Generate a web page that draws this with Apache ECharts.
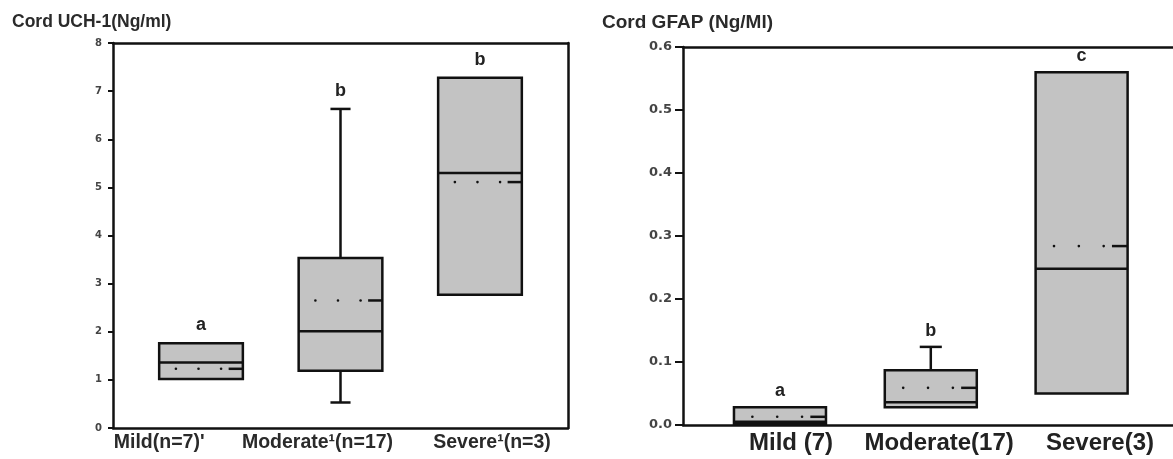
<!DOCTYPE html>
<html>
<head>
<meta charset="utf-8">
<script src="https://cdn.jsdelivr.net/npm/echarts@6/dist/echarts.min.js"></script>
<style>
html, body { margin: 0; padding: 0; background: #fff; }
#main { width: 1173px; height: 459px; }
</style>
</head>
<body>
<div id="main"></div>
<script>
// left panel: cord UCH-1 (Ng/ml)
const uchLabels = ["Mild(n=7)'", 'Moderate\u00b9(n=17)', 'Severe\u00b9(n=3)'];
const uchLow = [1.02, 0.53, 2.77];
const uchQ1 = [1.02, 1.19, 2.77];
const uchMedian = [1.36, 2.01, 5.30];
const uchQ3 = [1.76, 3.53, 7.28];
const uchHigh = [1.76, 6.63, 7.28];
const uchMean = [1.23, 2.65, 5.11];
const uchLetters = ['a', 'b', 'b'];

// right panel: cord GFAP (Ng/Ml)
const gfapLabels = ['Mild (7)', 'Moderate(17)', 'Severe(3)'];
const gfapLow = [0.001, 0.028, 0.050];
const gfapQ1 = [0.001, 0.028, 0.050];
const gfapMedian = [0.005, 0.036, 0.248];
const gfapQ3 = [0.028, 0.087, 0.560];
const gfapHigh = [0.028, 0.124, 0.560];
const gfapMean = [0.013, 0.059, 0.284];
const gfapLetters = ['a', 'b', 'c'];

const INK = '#111';
const FILL = '#c3c3c3';

function rows (low, q1, med, q3, high, mean) {
    return low.map((v, i) => [i, v, q1[i], med[i], q3[i], high[i], mean[i]]);
}

function line (x1, y1, x2, y2, w) {
    return { type: 'line', shape: { x1, y1, x2, y2 }, style: { stroke: INK, lineWidth: w || 2.5 } };
}

// box with whiskers, dotted mean line and a letter on top
function boxRenderer (boxWidth, letters, letterGap) {
    return function (params, api) {
        const x = api.value(0);
        const w = api.size([boxWidth, 0])[0];
        const yOf = k => api.coord([x, api.value(k)])[1];
        const cx = api.coord([x, api.value(3)])[0];
        const left = cx - w / 2;
        const right = cx + w / 2;
        const yLow = yOf(1), yQ1 = yOf(2), yMed = yOf(3), yQ3 = yOf(4), yHigh = yOf(5), yMean = yOf(6);
        const cap = w * 0.12;
        const children = [];
        if (yHigh < yQ3 - 1) {
            children.push(line(cx, yQ3, cx, yHigh), line(cx - cap, yHigh, cx + cap, yHigh));
        }
        if (yLow > yQ1 + 1) {
            children.push(line(cx, yQ1, cx, yLow), line(cx - cap, yLow, cx + cap, yLow));
        }
        children.push({
            type: 'rect',
            shape: { x: left, y: yQ3, width: w, height: yQ1 - yQ3 },
            style: { fill: FILL, stroke: INK, lineWidth: 2.5 }
        });
        children.push(line(left, yMed, right, yMed));
        [0.2, 0.47, 0.74].forEach(f => {
            children.push({ type: 'circle', shape: { cx: left + w * f, cy: yMean, r: 1.3 }, style: { fill: INK } });
        });
        children.push(line(left + w * 0.83, yMean, right, yMean));
        children.push({
            type: 'text',
            style: {
                text: letters[params.dataIndex],
                x: cx,
                y: Math.min(yHigh, yQ3) - letterGap,
                align: 'center',
                verticalAlign: 'middle',
                fontSize: 18,
                fontWeight: 'bold',
                fontFamily: 'Liberation Sans',
                fill: '#222'
            }
        });
        return { type: 'group', children };
    };
}

// label anchors under the boxes (the source prints the left ones shifted)
const uchLabelAt = [-0.30, 0.835, 2.086];
const gfapLabelAt = [0.073, 1.055, 2.122];

function nearestLabel (labels, anchors) {
    return function (v) {
        let best = 0;
        anchors.forEach((a, i) => {
            if (Math.abs(a - v) < Math.abs(anchors[best] - v)) best = i;
        });
        return labels[best];
    };
}

// plain frame edge: an axis that only shows its line
function frameAxis (gridIndex, position, min, max) {
    return {
        gridIndex,
        position,
        type: 'value',
        min,
        max,
        axisLine: { show: true, onZero: false, lineStyle: { color: INK, width: 2.5 } },
        axisTick: { show: false },
        axisLabel: { show: false },
        splitLine: { show: false }
    };
}

const myChart = echarts.init(document.getElementById('main'));

const option = {
    animation: false,
    backgroundColor: '#fff',
    title: [{
        text: 'Cord UCH-1(Ng/ml)',
        left: 7,
        top: 8,
        textStyle: { fontSize: 17.5, fontWeight: 'bold', fontFamily: 'Liberation Sans', color: '#2a2a2a' }
    }, {
        text: 'Cord GFAP (Ng/Ml)',
        left: 597,
        top: 8,
        textStyle: { fontSize: 19, fontWeight: 'bold', fontFamily: 'Liberation Sans', color: '#2a2a2a' }
    }],
    grid: [
        { left: 113, width: 455, top: 43, bottom: 31 },
        // the source crops this panel on the right edge, so no right frame
        { left: 683, right: 0, top: 47, bottom: 34 }
    ],
    xAxis: [{
        gridIndex: 0,
        type: 'value',
        min: -0.631,
        max: 2.631,
        axisLine: { show: true, onZero: false, lineStyle: { color: INK, width: 2.5 } },
        axisTick: { show: false, customValues: uchLabelAt },
        splitLine: { show: false },
        axisLabel: {
            show: true,
            customValues: uchLabelAt,
            margin: 5,
            formatter: nearestLabel(uchLabels, uchLabelAt),
            fontSize: 19.5,
            fontWeight: 'bold',
            fontFamily: 'Liberation Sans',
            color: '#2a2a2a'
        }
    }, {
        gridIndex: 1,
        type: 'value',
        min: -0.643,
        max: 2.606,
        axisLine: { show: true, onZero: false, lineStyle: { color: INK, width: 2.5 } },
        axisTick: { show: false, customValues: gfapLabelAt },
        splitLine: { show: false },
        axisLabel: {
            show: true,
            customValues: gfapLabelAt,
            margin: 6,
            formatter: nearestLabel(gfapLabels, gfapLabelAt),
            fontSize: 24,
            fontWeight: 'bold',
            fontFamily: 'Liberation Sans',
            color: '#222'
        }
    },
    frameAxis(0, 'top', -0.631, 2.631),
    frameAxis(1, 'top', -0.643, 2.606)],
    yAxis: [{
        gridIndex: 0,
        type: 'value',
        min: 0,
        max: 8,
        interval: 1,
        axisLine: { show: true, onZero: false, lineStyle: { color: INK, width: 2.5 } },
        axisTick: { show: true, length: 5, lineStyle: { color: INK, width: 2 } },
        splitLine: { show: false },
        axisLabel: { margin: 11, fontSize: 10, fontWeight: 'bold', fontFamily: 'DejaVu Sans', color: '#444' }
    }, {
        gridIndex: 1,
        type: 'value',
        min: 0,
        max: 0.6,
        interval: 0.1,
        axisLine: { show: true, onZero: false, lineStyle: { color: INK, width: 2.5 } },
        axisTick: { show: true, length: 8, lineStyle: { color: INK, width: 2 } },
        splitLine: { show: false },
        axisLabel: {
            margin: 11,
            fontSize: 13,
            fontWeight: 'bold',
            fontFamily: 'DejaVu Sans',
            color: '#444',
            formatter: v => v.toFixed(1)
        }
    },
    frameAxis(0, 'right', 0, 8)],
    series: [{
        type: 'custom',
        xAxisIndex: 0,
        yAxisIndex: 0,
        renderItem: boxRenderer(0.6, uchLetters, 18),
        encode: { x: 0, y: [1, 2, 3, 4, 5] },
        data: rows(uchLow, uchQ1, uchMedian, uchQ3, uchHigh, uchMean)
    }, {
        type: 'custom',
        xAxisIndex: 1,
        yAxisIndex: 1,
        renderItem: boxRenderer(0.61, gfapLetters, 16),
        encode: { x: 0, y: [1, 2, 3, 4, 5] },
        data: rows(gfapLow, gfapQ1, gfapMedian, gfapQ3, gfapHigh, gfapMean)
    }]
};

myChart.setOption(option);
</script>
</body>
</html>
